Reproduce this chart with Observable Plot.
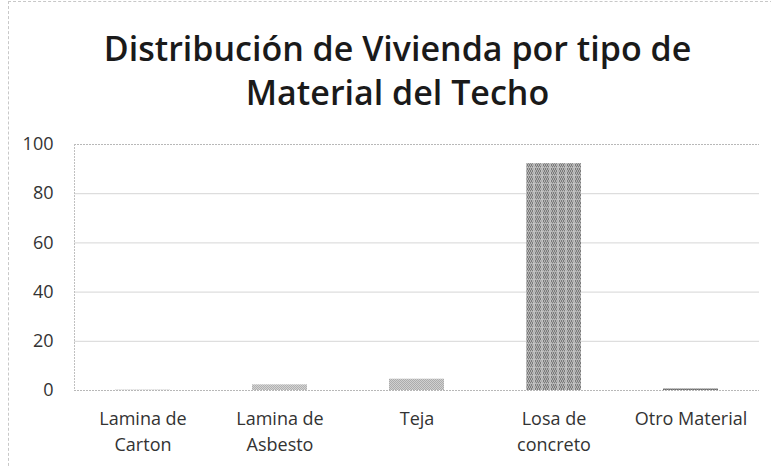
<!DOCTYPE html>
<html>
<head>
<meta charset="utf-8">
<script src="https://cdn.jsdelivr.net/npm/d3@7"></script>
<script src="https://cdn.jsdelivr.net/npm/@observablehq/plot@0.6"></script>
<style>
  html, body { margin: 0; padding: 0; background: #fff; }
  #wrap { width: 771px; height: 468px; position: relative; box-sizing: border-box; overflow: hidden; }
  #frame { position: absolute; left: 8px; top: 1px; width: 770px; height: 480px; border: 1px dashed #c8c8c8; box-sizing: border-box; pointer-events: none; }
  #title { height: 130px; box-sizing: border-box; padding-top: 26px; text-align: center; font-family: "Open Sans", sans-serif; font-weight: 600; font-size: 34px; line-height: 44px; color: #1a1a1a; padding-left: 24px; }
</style>
</head>
<body>
<div id="wrap">
  <div id="frame"></div>
  <div id="title">Distribución de Vivienda por tipo de<br>Material del Techo</div>
  <div id="chart"></div>
</div>
<script>
const categories = ["Lamina de\nCarton", "Lamina de\nAsbesto", "Teja", "Losa de\nconcreto", "Otro Material"];
const values = [0.1, 2.3, 4.6, 92.2, 0.6];
const fills = ["url(#pat0)", "url(#pat1)", "url(#pat2)", "url(#pat3)", "url(#pat4)"];
const yTicks = [0, 20, 40, 60, 80, 100];

const data = categories.map((c, i) => ({category: c, value: values[i], fill: fills[i]}));

const chart = Plot.plot({
  width: 771,
  height: 338,
  marginTop: 14,
  marginBottom: 78,
  marginLeft: 74,
  marginRight: 12,
  style: {fontFamily: "'Open Sans', sans-serif", fontSize: "18px", color: "#333", background: "#fff"},
  x: {domain: categories, paddingInner: 0.6, paddingOuter: 0.3, label: null},
  y: {domain: [0, 100], ticks: yTicks, label: null},
  marks: [
    Plot.gridY(yTicks.filter(d => d > 0 && d < 100), {stroke: "#d6d6d6", strokeOpacity: 1}),
    Plot.barY(data, {x: "category", y: "value", fill: "fill"}),
    Plot.ruleY([0], {stroke: "#b8b8b8", strokeDasharray: "2,1"}),
    Plot.ruleY([100], {stroke: "#b8b8b8", strokeDasharray: "2,1"}),
    Plot.axisY({ticks: yTicks, tickSize: 0, tickPadding: 21, fontSize: 18, fill: "#333"}),
    Plot.axisX({tickSize: 0, tickPadding: 17, fontSize: 18, lineHeight: 1.4, fill: "#333"})
  ]
});

const svg = d3.select(chart);
svg.append("line").attr("x1", 74.5).attr("x2", 74.5).attr("y1", 14).attr("y2", 260)
  .attr("stroke", "#c0c0c0").attr("stroke-dasharray", "2,1");

const defs = svg.insert("defs", ":first-child");
function dots(id, bg, fg, size) {
  const p = defs.append("pattern").attr("id", id).attr("patternUnits", "userSpaceOnUse")
    .attr("width", size).attr("height", size);
  p.append("rect").attr("width", size).attr("height", size).attr("fill", bg);
  p.append("rect").attr("width", 1).attr("height", 1).attr("fill", fg);
  p.append("rect").attr("x", size / 2).attr("y", size / 2).attr("width", 1).attr("height", 1).attr("fill", fg);
}
dots("pat0", "#b0b0b0", "#909090", 2);
dots("pat1", "#d4d4d4", "#b0b0b0", 2);
dots("pat2", "#d0d0d0", "#acacac", 2);
const p3 = defs.append("pattern").attr("id", "pat3").attr("patternUnits", "userSpaceOnUse")
  .attr("width", 8).attr("height", 8);
p3.append("rect").attr("width", 8).attr("height", 8).attr("fill", "#b4b4b4");
for (let i = 0; i < 8; i += 2) {
  for (let j = 0; j < 8; j += 2) {
    p3.append("rect").attr("x", i + ((j / 2) % 2)).attr("y", j).attr("width", 1).attr("height", 2).attr("fill", "#7a7a7a");
  }
}
p3.append("rect").attr("x", 5).attr("width", 2).attr("height", 8).attr("fill", "#cfcfcf").attr("opacity", 0.6);
p3.append("rect").attr("y", 5).attr("width", 8).attr("height", 1).attr("fill", "#cfcfcf").attr("opacity", 0.5);
dots("pat4", "#8a8a8a", "#6a6a6a", 2);

document.getElementById("chart").appendChild(chart);
</script>
</body>
</html>
